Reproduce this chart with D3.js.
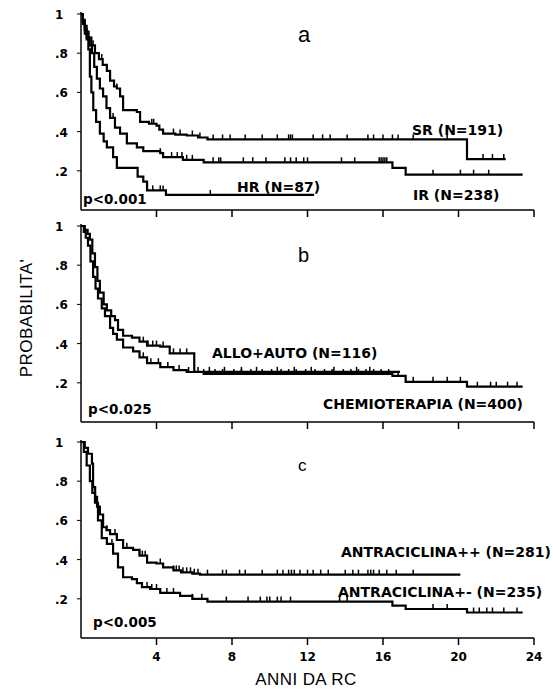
<!DOCTYPE html>
<html>
<head>
<meta charset="utf-8">
<script src="https://cdn.jsdelivr.net/npm/d3@7"></script>
<style>
  body { margin: 0; background: #fff; }
  .curve-label { font-family: "DejaVu Sans", sans-serif; font-weight: bold; font-size: 14px; }
  .tick-label { font-family: "DejaVu Sans", sans-serif; font-weight: bold; font-size: 12px; }
  .axis-title { font-family: "Liberation Sans", Arial, sans-serif; font-size: 17px; letter-spacing: 0.4px; }
  .panel-letter { font-family: "Liberation Sans", Arial, sans-serif; }
</style>
</head>
<body>
<svg width="553" height="692"></svg>
<script>
// tick labels
const xTicks = [4, 8, 12, 16, 20, 24];
const yTicks = [0.2, 0.4, 0.6, 0.8, 1];
const yTickLabels = [".2", ".4", ".6", ".8", "1"];

// panel a: risk groups
const srCurve = [[0,1],[0.1,0.97],[0.2,0.94],[0.3,0.91],[0.4,0.88],[0.55,0.84],[0.74,0.80],[0.95,0.77],[1.15,0.74],[1.37,0.71],[1.54,0.66],[1.75,0.63],[1.9,0.62],[2.07,0.58],[2.23,0.51],[2.96,0.50],[3.13,0.45],[3.6,0.44],[4.0,0.43],[4.15,0.41],[4.35,0.39],[5.0,0.385],[5.6,0.38],[6.2,0.37],[6.7,0.36],[20.45,0.26],[22.5,0.26]];
const srCens = [0.64,1.1,1.9,3.75,3.85,4.9,5.25,5.9,6.3,7.0,7.5,7.9,8.7,9.6,10.4,11.0,11.1,11.2,12.3,12.8,13.2,14.1,15.2,15.5,16.0,16.5,16.8,17.6,19.4,21.3,21.8,22.4];
const irCurve = [[0,1],[0.1,0.96],[0.2,0.92],[0.3,0.88],[0.45,0.84],[0.58,0.80],[0.7,0.73],[0.84,0.67],[1.0,0.62],[1.17,0.58],[1.35,0.52],[1.54,0.47],[1.8,0.42],[2.07,0.39],[2.43,0.34],[2.96,0.32],[3.3,0.30],[4.2,0.29],[4.35,0.27],[5.4,0.256],[6.5,0.243],[16.5,0.215],[17.2,0.18],[23.4,0.18]];
const irCens = [1.7,4.2,4.8,5.1,5.35,5.6,5.9,7.0,7.3,7.4,8.6,9.1,9.8,10.8,11.1,11.4,11.8,12.0,13.8,14.5,15.8,15.9,16.0,16.1,16.2,18.65,20.1,20.8,21.6];
const hrCurve = [[0,1],[0.1,0.95],[0.2,0.9],[0.3,0.87],[0.39,0.82],[0.47,0.68],[0.55,0.60],[0.65,0.51],[0.8,0.45],[1.0,0.39],[1.2,0.35],[1.37,0.32],[1.7,0.27],[1.9,0.215],[3.0,0.17],[3.3,0.145],[3.5,0.10],[4.5,0.077],[12.35,0.077]];
const hrCens = [3.8,4.2,4.35,6.85];

// panel b: treatment
const alloCurve = [[0,1],[0.2,0.98],[0.35,0.96],[0.47,0.93],[0.6,0.86],[0.74,0.79],[0.87,0.72],[1.0,0.66],[1.2,0.60],[1.37,0.57],[1.6,0.54],[1.8,0.52],[1.96,0.47],[2.23,0.44],[2.7,0.43],[3.1,0.41],[3.5,0.39],[4.2,0.385],[4.7,0.35],[6.0,0.256],[16.9,0.256]];
const alloCens = [3.3,3.55,3.8,4.0,4.35,4.9,5.25,5.6,6.8,7.6,8.5,9.3,10.4,11.3,12.2,13.4,14.6,15.3];
const chemioCurve = [[0,1],[0.15,0.97],[0.25,0.94],[0.37,0.90],[0.5,0.82],[0.64,0.74],[0.77,0.68],[0.9,0.63],[1.1,0.58],[1.27,0.54],[1.54,0.48],[1.7,0.45],[1.9,0.42],[2.23,0.38],[2.76,0.36],[3.1,0.33],[3.5,0.30],[4.2,0.28],[4.9,0.265],[5.6,0.255],[6.5,0.245],[16.5,0.235],[17.2,0.205],[20.45,0.18],[23.4,0.18]];
const chemioCens = [3.3,3.7,4.1,4.6,5.2,5.7,6.2,6.5,7.1,7.5,8.1,8.5,9.0,9.6,10.1,10.6,11.0,11.4,11.9,12.4,12.9,13.3,13.9,14.3,14.7,15.1,15.5,15.9,16.3,16.8,17.6,18.65,19.4,20.1,21.0,21.7,22.0,22.6,23.1];

// panel c: anthracycline
const antraPPCurve = [[0,1],[0.2,0.97],[0.37,0.94],[0.58,0.89],[0.64,0.77],[0.75,0.72],[0.85,0.67],[1.0,0.63],[1.17,0.565],[1.35,0.55],[1.54,0.53],[1.9,0.50],[2.23,0.46],[2.76,0.45],[3.1,0.42],[3.5,0.385],[4.0,0.38],[4.35,0.36],[4.9,0.345],[5.3,0.335],[5.9,0.328],[6.3,0.323],[20.1,0.323]];
const antraPPCens = [0.85,1.0,1.37,1.8,2.43,3.1,3.25,3.4,4.2,4.9,5.05,5.2,5.4,5.6,5.8,6.0,6.2,6.7,7.5,7.7,8.4,8.7,9.6,10.4,10.7,11.0,11.15,11.3,11.6,12.0,12.3,12.7,13.1,14.0,14.4,14.7,15.2,15.35,15.5,15.8,16.2,16.7,17.6];
const antraPMCurve = [[0,1],[0.15,0.95],[0.3,0.88],[0.47,0.80],[0.6,0.74],[0.74,0.69],[0.9,0.60],[1.1,0.51],[1.37,0.48],[1.7,0.43],[1.96,0.36],[2.23,0.31],[2.7,0.30],[2.96,0.28],[3.23,0.26],[3.66,0.25],[4.2,0.23],[5.25,0.215],[5.9,0.20],[6.7,0.186],[16.5,0.165],[17.2,0.148],[20.45,0.13],[23.4,0.13]];
const antraPMCens = [1.64,3.5,3.75,4.0,4.2,4.55,4.9,5.9,6.4,7.7,8.85,9.5,9.85,10.0,10.4,10.6,11.1,13.7,14.1,18.65,19.4,20.8,21.1,21.5,21.8,22.4,23.1];

const panels = [
    {letter: "a", letterSize: 22, letterY: 42, top: 14, pText: "p<0.001", pX: 83, pY: 204,
     curves: [
        {pts: srCurve, cens: srCens, label: "SR (N=191)", lx: 412, ly: 135},
        {pts: irCurve, cens: irCens, label: "IR (N=238)", lx: 413, ly: 200},
        {pts: hrCurve, cens: hrCens, label: "HR (N=87)", lx: 237, ly: 192}
     ]},
    {letter: "b", letterSize: 20, letterY: 262, top: 226, pText: "p<0.025", pX: 88, pY: 414,
     curves: [
        {pts: alloCurve, cens: alloCens, label: "ALLO+AUTO (N=116)", lx: 212, ly: 358},
        {pts: chemioCurve, cens: chemioCens, label: "CHEMIOTERAPIA (N=400)", lx: 323, ly: 409}
     ]},
    {letter: "c", letterSize: 17, letterY: 471, top: 442, pText: "p<0.005", pX: 93, pY: 627,
     curves: [
        {pts: antraPPCurve, cens: antraPPCens, label: "ANTRACICLINA++ (N=281)", lx: 341, ly: 557},
        {pts: antraPMCurve, cens: antraPMCens, label: "ANTRACICLINA+- (N=235)", lx: 338, ly: 597}
     ]}
];

let svg = d3.select("svg"),
    left = 81, right = 534, panelHeight = 196;

let xScale = d3.scaleLinear()
    .domain([0, 24])
    .range([left, right]);

// survival value at time t (step function)
const survAt = (pts, t) => {
    let s = pts[0][1];
    pts.forEach(p => { if (p[0] <= t) s = p[1]; });
    return s;
};

panels.forEach((p, i) => {
    let yScale = d3.scaleLinear()
        .domain([0, 1])
        .range([p.top + panelHeight, p.top]);
    let g = svg.append("g");

    // left axis
    g.append("line")
        .attr("x1", left).attr("x2", left)
        .attr("y1", p.top - 2).attr("y2", yScale(0))
        .attr("stroke", "#000").attr("stroke-width", 1.5);
    g.selectAll(".ytick")
        .data(yTicks)
        .join("line")
        .attr("x1", left - 4).attr("x2", left)
        .attr("y1", d => yScale(d)).attr("y2", d => yScale(d))
        .attr("stroke", "#000").attr("stroke-width", 1);
    g.selectAll(".ylab")
        .data(yTicks)
        .join("text")
        .attr("class", "tick-label")
        .attr("x", 55)
        .attr("y", d => yScale(d) + 5)
        .text((d, j) => yTickLabels[j]);

    // bottom axis
    g.append("line")
        .attr("x1", left).attr("x2", right)
        .attr("y1", yScale(0)).attr("y2", yScale(0))
        .attr("stroke", "#000").attr("stroke-width", 1.5);
    g.selectAll(".xtick")
        .data(xTicks)
        .join("line")
        .attr("x1", d => xScale(d)).attr("x2", d => xScale(d))
        .attr("y1", yScale(0)).attr("y2", yScale(0) + 7)
        .attr("stroke", "#000").attr("stroke-width", 1.5);
    if (i == panels.length - 1) {
        g.selectAll(".xlab")
            .data(xTicks)
            .join("text")
            .attr("class", "tick-label")
            .attr("text-anchor", "middle")
            .attr("x", d => xScale(d))
            .attr("y", yScale(0) + 23)
            .text(d => d);
    }

    // curves
    let line = d3.line()
        .curve(d3.curveStepAfter)
        .x(d => xScale(d[0]))
        .y(d => yScale(d[1]));

    p.curves.forEach(c => {
        g.append("path")
            .datum(c.pts)
            .attr("fill", "none")
            .attr("stroke", "#000")
            .attr("stroke-width", 2.2)
            .attr("d", line);
        g.selectAll(null)
            .data(c.cens)
            .join("line")
            .attr("x1", d => xScale(d)).attr("x2", d => xScale(d))
            .attr("y1", d => yScale(survAt(c.pts, d)))
            .attr("y2", d => yScale(survAt(c.pts, d)) - 5)
            .attr("stroke", "#000").attr("stroke-width", 1.5);
        g.append("text")
            .attr("class", "curve-label")
            .attr("x", c.lx).attr("y", c.ly)
            .text(c.label);
    });

    g.append("text")
        .attr("class", "curve-label")
        .attr("x", p.pX).attr("y", p.pY)
        .style("font-size", "13.5px")
        .text(p.pText);

    g.append("text")
        .attr("class", "panel-letter")
        .attr("x", 298).attr("y", p.letterY)
        .style("font-size", p.letterSize + "px")
        .text(p.letter);
});

// axis titles
svg.append("text")
    .attr("class", "axis-title")
    .attr("text-anchor", "middle")
    .attr("transform", "translate(32,318) rotate(-90)")
    .text("PROBABILITA'");
svg.append("text")
    .attr("class", "axis-title")
    .attr("text-anchor", "middle")
    .attr("x", 306).attr("y", 685)
    .text("ANNI DA RC");
</script>
</body>
</html>
